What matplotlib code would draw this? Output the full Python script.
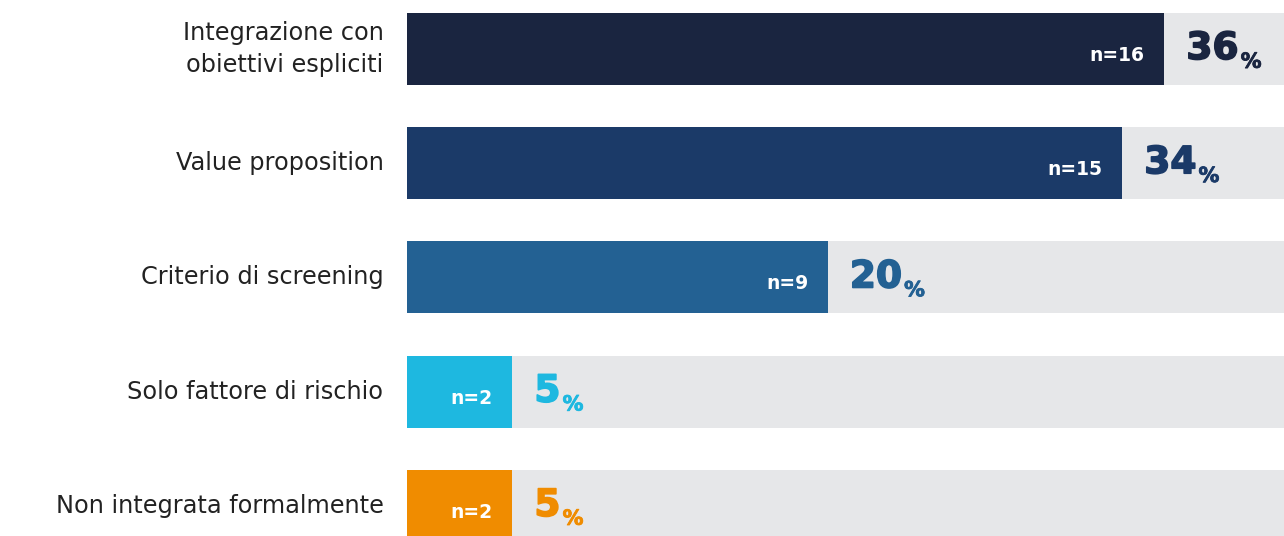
import matplotlib
matplotlib.use("Agg")
import matplotlib.pyplot as plt
import matplotlib.patheffects as pe

labels = ["Integrazione con\nobiettivi espliciti", "Value proposition", "Criterio di screening",
          "Solo fattore di rischio", "Non integrata formalmente"]
counts = [16, 15, 9, 2, 2]
percents = [36, 34, 20, 5, 5]
colors = ["#1a2540", "#1b3a68", "#236193", "#1eb8e0", "#f08c00"]

plt.rcParams["font.family"] = ["DejaVu Sans"]

fig = plt.figure(figsize=(12.84, 5.36), dpi=100)
ax = fig.add_axes([407 / 1284, 0, 877 / 1284, 1])
xmax = 41.7

y = list(range(len(labels)))
ax.barh(y, [xmax] * len(y), height=0.63, color="#e6e7e9", zorder=1)
ax.barh(y, percents, height=0.63, color=colors, zorder=2)

ax.set_xlim(0, xmax)
ax.set_ylim(4.263, -0.429)
ax.axis("off")

fig.canvas.draw()
renderer = fig.canvas.get_renderer()

for i, (lab, n, p, c) in enumerate(zip(labels, counts, percents, colors)):
    # category label on the left
    ax.annotate(lab, (0, i), xytext=(-17, 0), textcoords="offset points",
                ha="right", va="center", fontsize=17.3, color="#222222",
                linespacing=1.45)
    # n= inside the bar
    ax.annotate(f"n={n}", (p, i), xytext=(-14, -8.6), textcoords="offset points",
                ha="right", va="baseline", fontsize=13.5, fontweight="bold", color="white")
    # big percentage
    t = ax.annotate(f"{p}", (p, i), xytext=(16, -7.2), textcoords="offset points",
                    ha="left", va="baseline", fontsize=27, fontweight="bold", color=c,
                    path_effects=[pe.withStroke(linewidth=1.2, foreground=c)])
    bb = t.get_window_extent(renderer)
    wpt = bb.width * 72 / fig.dpi
    ax.annotate("%", (p, i), xytext=(16 + wpt + 1.5, -13.5), textcoords="offset points",
                ha="left", va="baseline", fontsize=15, fontweight="bold", color=c,
                path_effects=[pe.withStroke(linewidth=0.6, foreground=c)])

fig.savefig("out.png", dpi=100)
